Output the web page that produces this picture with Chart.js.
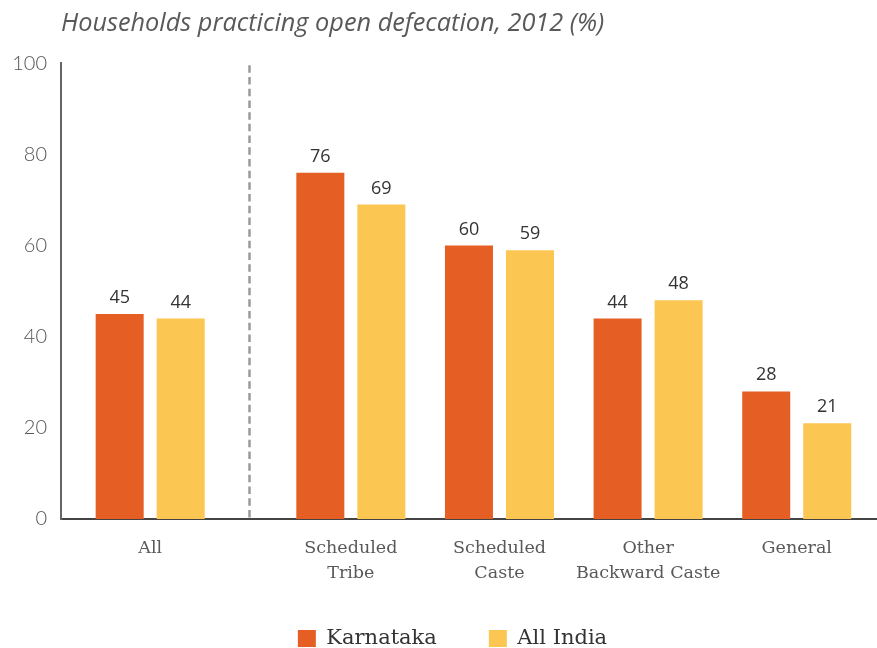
<!DOCTYPE html>
<html>
<head>
<meta charset="utf-8">
<title>Households practicing open defecation, 2012</title>
<style>
  html, body { margin: 0; padding: 0; background: #fff; }
  #wrap { width: 877px; height: 648px; }
</style>
<script src="https://cdn.jsdelivr.net/npm/chart.js@4.4.1/dist/chart.umd.min.js"></script>
</head>
<body>
<div id="wrap"><canvas id="chart"></canvas></div>
<script>
const titleText = "Households practicing open defecation, 2012 (%)";
const categories = ["All", "Scheduled Tribe", "Scheduled Caste", "Other Backward Caste", "General"];
const tickLabels = [["All"], ["Scheduled", "Tribe"], ["Scheduled", "Caste"], ["Other", "Backward Caste"], ["General"]];
const karnataka = [45, 76, 60, 44, 28];
const allIndia = [44, 69, 59, 48, 21];
const yTicks = [0, 20, 40, 60, 80, 100];

const colors = {
  karnataka: "#e55f25",
  allIndia: "#fcc652",
  axis: "#444",
  text: "#333",
  muted: "#595959",
  divider: "#9a9a9a"
};

// category axis with some room in front and an extra gap after "All"
const X_LEAD = 0.6;
const X_GAP = 0.35;
const X_TAIL = 0.54;

class GappedCategoryScale extends Chart.CategoryScale {
  getPixelForValue(value) {
    if (typeof value !== "number") {
      value = this.parse(value);
    }
    if (value === null || isNaN(value)) {
      return NaN;
    }
    const shifted = value + (value >= 1 ? X_GAP : 0);
    const last = this.getLabels().length - 1 + X_GAP;
    return this.getPixelForDecimal((shifted + X_LEAD) / (last + X_LEAD + X_TAIL));
  }

  // two-line labels run a little past the axis box, don't clip them
  _computeLabelArea() {
    return undefined;
  }
}
GappedCategoryScale.id = "gappedCategory";
GappedCategoryScale.defaults = Chart.CategoryScale.defaults;
Chart.register(GappedCategoryScale);

const groupDivider = {
  id: "groupDivider",
  beforeDatasetsDraw(chart) {
    const { ctx, chartArea, scales } = chart;
    const x = Math.round((scales.x.getPixelForValue(0) + scales.x.getPixelForValue(1)) / 2) - 1.5;
    ctx.save();
    ctx.strokeStyle = colors.divider;
    ctx.lineWidth = 2.5;
    ctx.setLineDash([7.5, 4.2]);
    ctx.beginPath();
    ctx.moveTo(x, chartArea.top + 2);
    ctx.lineTo(x, chartArea.bottom);
    ctx.stroke();
    ctx.restore();
  }
};

const valueLabels = {
  id: "valueLabels",
  afterDatasetsDraw(chart) {
    const { ctx } = chart;
    ctx.save();
    ctx.font = "18px 'Open Sans', sans-serif";
    ctx.fillStyle = colors.text;
    ctx.textAlign = "center";
    ctx.textBaseline = "alphabetic";
    chart.data.datasets.forEach((dataset, i) => {
      chart.getDatasetMeta(i).data.forEach((bar, j) => {
        ctx.fillText(String(dataset.data[j]), bar.x, bar.y - 11);
      });
    });
    ctx.restore();
  }
};

// the legend sits a bit right of the page centre
const legendShift = {
  id: "legendShift",
  afterLayout(chart) {
    if (chart.legend) {
      chart.legend.left += 14;
      chart.legend.right += 14;
    }
  }
};

new Chart(document.getElementById("chart"), {
  type: "bar",
  data: {
    labels: categories,
    datasets: [
      {
        label: "Karnataka",
        data: karnataka,
        backgroundColor: colors.karnataka,
        borderWidth: 0,
        categoryPercentage: 0.821,
        barPercentage: 0.787
      },
      {
        label: "All India",
        data: allIndia,
        backgroundColor: colors.allIndia,
        borderWidth: 0,
        categoryPercentage: 0.821,
        barPercentage: 0.787
      }
    ]
  },
  options: {
    responsive: true,
    maintainAspectRatio: false,
    animation: false,
    events: [],
    layout: { padding: 0 },
    plugins: {
      tooltip: { enabled: false },
      title: {
        display: true,
        text: titleText,
        align: "start",
        fullSize: false,
        color: colors.muted,
        font: { family: "'Open Sans', sans-serif", size: 25.3, style: "italic", weight: "normal" },
        padding: { top: 9, bottom: 24 }
      },
      legend: {
        position: "bottom",
        maxHeight: 72,
        labels: {
          boxWidth: 18,
          boxHeight: 17,
          padding: 52,
          color: colors.text,
          font: { family: "'DejaVu Serif', serif", size: 21 }
        }
      }
    },
    scales: {
      x: {
        type: "gappedCategory",
        grid: { display: false, drawTicks: false },
        border: { display: true, color: colors.axis, width: 2 },
        ticks: {
          autoSkip: false,
          maxRotation: 0,
          padding: 17,
          color: colors.muted,
          font: { family: "'DejaVu Serif', serif", size: 17.5, lineHeight: 1.41 },
          callback: (value, index) => tickLabels[index]
        },
        afterFit(scale) {
          scale.height = 57;
        }
      },
      y: {
        min: 0,
        max: 100,
        grid: { display: false, drawTicks: false },
        border: { display: true, color: "#666", width: 2 },
        afterBuildTicks(scale) {
          scale.ticks = yTicks.map((value) => ({ value }));
        },
        ticks: {
          padding: 14,
          color: "#555",
          font: { family: "Lato, sans-serif", size: 20, weight: 300 }
        },
        afterFit(scale) {
          scale.width = 61;
        }
      }
    }
  },
  plugins: [groupDivider, valueLabels, legendShift]
});
</script>
</body>
</html>
